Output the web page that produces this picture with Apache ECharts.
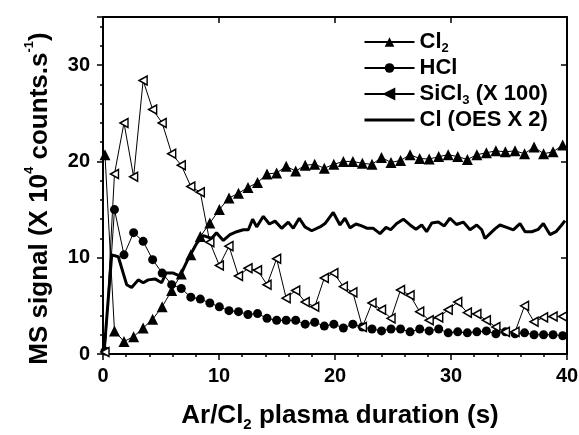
<!DOCTYPE html>
<html>
<head>
<meta charset="utf-8">
<script src="https://cdn.jsdelivr.net/npm/echarts@6/dist/echarts.min.js"></script>
<style>
  html, body { margin: 0; padding: 0; background: #fff; }
  #chart { width: 579px; height: 435px; }
</style>
</head>
<body>
<div id="chart"></div>
<script>
// sampling times of the mass spectrometer points (s)
var msTimes = [0.17, 0.99, 1.81, 2.64, 3.46, 4.28, 5.10, 5.92, 6.75, 7.57,
    8.39, 9.21, 10.03, 10.86, 11.68, 12.50, 13.32, 14.14, 14.97, 15.79,
    16.61, 17.43, 18.25, 19.08, 19.90, 20.72, 21.54, 22.36, 23.19, 24.01,
    24.83, 25.65, 26.47, 27.30, 28.12, 28.94, 29.76, 30.58, 31.41, 32.23,
    33.05, 33.87, 34.69, 35.52, 36.34, 37.16, 37.98, 38.80, 39.63];

var cl2Values = [20.7, 2.4, 1.3, 1.8, 2.7, 3.6, 4.9, 6.6, 8.3, 10.3,
    12.2, 13.6, 15.0, 16.2, 16.7, 17.3, 17.8, 18.7, 18.8, 19.5,
    19.0, 19.6, 19.7, 19.3, 19.7, 20.0, 20.0, 19.8, 19.7, 20.4,
    19.9, 20.1, 20.7, 20.3, 20.25, 20.5, 20.7, 20.5, 20.2, 20.7,
    20.9, 21.1, 21.0, 21.1, 20.8, 21.5, 20.8, 21.0, 21.7];

var hclValues = [0.3, 15.0, 10.3, 12.6, 11.7, 9.8, 8.4, 7.2, 6.8, 5.9,
    5.7, 5.3, 4.9, 4.5, 4.4, 4.1, 4.2, 3.7, 3.5, 3.5,
    3.5, 3.1, 3.3, 2.9, 3.1, 2.7, 3.1, 2.8, 2.6, 2.4,
    2.6, 2.6, 2.3, 2.6, 2.4, 2.6, 2.2, 2.3, 2.2, 2.3,
    2.4, 2.1, 2.3, 2.1, 2.2, 2.0, 2.0, 2.0, 1.9];

var sicl3Values = [0.2, 18.7, 24.0, 18.4, 28.4, 25.4, 24.0, 20.8, 19.6, 17.4,
    16.8, 11.6, 9.2, 11.2, 8.1, 8.9, 8.7, 7.2, 9.9, 5.8,
    6.6, 5.4, 4.9, 7.9, 8.4, 7.0, 6.4, 2.8, 5.3, 4.6,
    3.7, 6.65, 6.1, 4.4, 3.5, 3.8, 4.6, 5.4, 4.3, 4.15,
    3.5, 2.8, 2.3, 2.3, 5.0, 3.35, 3.8, 3.9, 3.9];

// optical emission trace, sampled more finely
var clTimes = [0.1, 0.75, 1.32, 2.04, 2.47, 3.04, 3.47, 3.90, 4.48, 5.06,
    5.43, 6.06, 6.64, 7.35, 8.08, 8.65, 9.37, 9.78, 10.37, 10.95,
    11.53, 12.09, 12.53, 12.90, 13.25, 13.82, 14.34, 14.83, 15.40, 15.97,
    16.40, 16.92, 17.41, 17.99, 18.71, 19.14, 19.85, 20.43, 20.86, 21.29,
    21.81, 22.30, 22.78, 23.30, 23.88, 24.40, 24.80, 25.32, 25.89, 26.47,
    26.98, 27.47, 27.90, 28.34, 28.90, 29.42, 29.91, 30.47, 31.06, 31.64,
    32.22, 32.65, 32.93, 33.36, 33.79, 34.22, 34.80, 35.37, 35.95, 36.38,
    36.96, 37.53, 37.96, 38.53, 39.05, 39.54, 39.83];

var clValues = [0.3, 10.3, 10.1, 7.2, 6.9, 7.7, 7.4, 7.7, 7.8, 7.4,
    8.4, 8.4, 8.1, 9.9, 11.5, 12.3, 12.0, 12.6, 11.8, 12.4,
    12.7, 12.9, 12.9, 14.0, 13.2, 14.3, 13.5, 13.8, 13.05, 13.7,
    13.05, 14.1, 13.2, 12.8, 13.2, 13.55, 14.7, 13.4, 14.1, 13.1,
    13.5, 13.3, 13.05, 13.05, 12.5, 13.15, 12.9, 13.55, 14.0, 13.4,
    12.95, 13.4, 12.7, 13.6, 13.7, 13.3, 14.1, 13.45, 13.7, 12.9,
    13.4, 12.9, 12.0, 12.5, 13.0, 13.4, 13.15, 12.9, 13.55, 12.7,
    12.7, 12.95, 13.55, 12.4, 12.7, 13.4, 13.85];

var xTicks = [0, 10, 20, 30, 40];
var yTicks = [0, 10, 20, 30];

function pairs(xs, ys) {
    return xs.map(function(x, i) { return [x, ys[i]]; });
}

var FONT = 'Liberation Sans';
var legendNames = {
    'Cl2': '{a|Cl}{s|2}',
    'HCl': '{a|HCl}',
    'SiCl3': '{a|SiCl}{s|3}{a| (X 100)}',
    'Cl': '{a|Cl (OES X 2)}'
};

var myChart = echarts.init(document.getElementById('chart'));

var frameAxis = {
    axisLine: {onZero: false, lineStyle: {color: '#000', width: 2}},
    axisTick: {inside: true, length: 6, lineStyle: {color: '#000', width: 1.5}},
    axisLabel: {show: false},
    splitLine: {show: false}
};

option = {
    animation: false,
    backgroundColor: '#fff',
    grid: {left: 103, right: 12, top: 17, bottom: 81, outerBoundsMode: 'none'},
    legend: {
        orient: 'vertical',
        left: 363,
        top: 29,
        padding: 0,
        itemWidth: 50,
        itemHeight: 12,
        itemGap: 2,
        data: [
            {name: 'Cl2'},
            {name: 'HCl'},
            {name: 'SiCl3', itemStyle: {color: '#000', borderColor: '#000'}},
            {name: 'Cl', itemStyle: {opacity: 0}, lineStyle: {width: 3, color: '#000'}}
        ],
        formatter: function(name) { return legendNames[name]; },
        textStyle: {
            color: '#000',
            rich: {
                a: {fontFamily: FONT, fontWeight: 'bold', fontSize: 22, lineHeight: 25, color: '#000'},
                s: {fontFamily: FONT, fontWeight: 'bold', fontSize: 13, lineHeight: 12, padding: [13, 0, 0, 0], color: '#000'}
            }
        }
    },
    xAxis: [{
        type: 'value',
        min: 0,
        max: 40,
        interval: 10,
        position: 'bottom',
        axisLine: {onZero: false, lineStyle: {color: '#000', width: 2}},
        axisTick: {length: 6, lineStyle: {color: '#000', width: 1.5}},
        minorTick: {show: true, splitNumber: 5, length: 3, lineStyle: {color: '#000', width: 1.5}},
        splitLine: {show: false},
        axisLabel: {
            margin: 12, color: '#000', fontFamily: FONT, fontWeight: 'bold', fontSize: 20,
            formatter: function(v) { return xTicks.indexOf(v) >= 0 ? String(v) : ''; }
        },
        name: '{a|Ar/Cl}{s|2}{a| plasma duration (s)}',
        nameLocation: 'middle',
        nameGap: 47,
        nameTextStyle: {
            padding: [0, 0, 0, 10],
            rich: {
                a: {fontFamily: FONT, fontWeight: 'bold', fontSize: 26, lineHeight: 30, color: '#000'},
                s: {fontFamily: FONT, fontWeight: 'bold', fontSize: 15, lineHeight: 14, padding: [18, 0, 0, 0], color: '#000'}
            }
        }
    }, Object.assign({
        type: 'value', min: 0, max: 40, interval: 10, position: 'top'
    }, frameAxis)],
    yAxis: [{
        type: 'value',
        min: 0,
        max: 35,
        interval: 10,
        position: 'left',
        axisLine: {onZero: false, lineStyle: {color: '#000', width: 2}},
        axisTick: {length: 6, lineStyle: {color: '#000', width: 1.5}},
        minorTick: {show: true, splitNumber: 5, length: 3, lineStyle: {color: '#000', width: 1.5}},
        splitLine: {show: false},
        axisLabel: {
            margin: 13, color: '#000', fontFamily: FONT, fontWeight: 'bold', fontSize: 20,
            formatter: function(v) { return yTicks.indexOf(v) >= 0 ? String(v) : ''; }
        },
        name: '{a|MS signal (X 10}{p|4}{a| counts.s}{p|-1}{a|)}',
        nameLocation: 'middle',
        nameGap: 36,
        nameTextStyle: {
            padding: [0, 26, 0, 0],
            rich: {
                a: {fontFamily: FONT, fontWeight: 'bold', fontSize: 26, lineHeight: 30, color: '#000'},
                p: {fontFamily: FONT, fontWeight: 'bold', fontSize: 13, lineHeight: 12, padding: [0, 0, 21, 0], color: '#000'}
            }
        }
    }, Object.assign({
        type: 'value', min: 0, max: 35, interval: 10, position: 'right'
    }, frameAxis)],
    series: [{
        name: 'Cl2',
        type: 'line',
        symbol: 'triangle',
        symbolSize: 11,
        itemStyle: {color: '#000'},
        lineStyle: {color: '#000', width: 1},
        data: pairs(msTimes, cl2Values)
    }, {
        name: 'HCl',
        type: 'line',
        symbol: 'circle',
        symbolSize: 9,
        itemStyle: {color: '#000'},
        lineStyle: {color: '#000', width: 1},
        data: pairs(msTimes, hclValues)
    }, {
        name: 'SiCl3',
        type: 'line',
        symbol: 'path://M0,5L10,0L10,10Z',
        symbolSize: [8, 9],
        itemStyle: {color: '#fff', borderColor: '#000', borderWidth: 1.5},
        lineStyle: {color: '#000', width: 1},
        data: pairs(msTimes, sicl3Values)
    }, {
        name: 'Cl',
        type: 'line',
        symbol: 'none',
        lineStyle: {color: '#000', width: 3},
        itemStyle: {color: '#000'},
        data: pairs(clTimes, clValues)
    }]
};

myChart.setOption(option);
</script>
</body>
</html>
